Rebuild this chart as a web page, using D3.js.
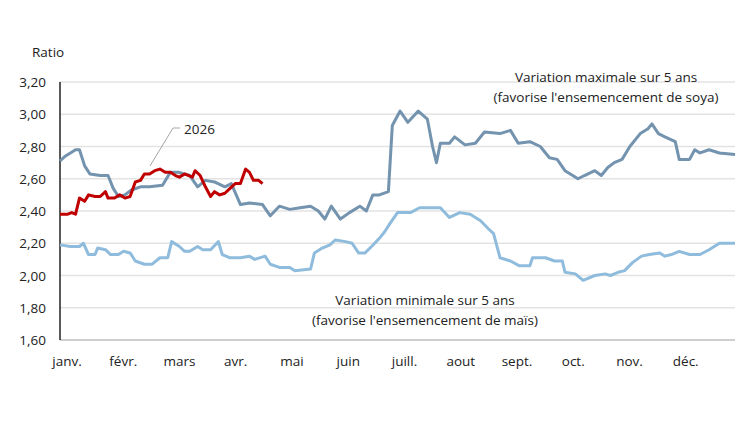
<!DOCTYPE html>
<html><head><meta charset="utf-8">
<script src="https://cdn.jsdelivr.net/npm/d3@7"></script>
<style>body{margin:0;background:#fff}text{font-family:"Open Sans","Noto Sans",sans-serif}</style>
</head><body>
<svg id="chart" width="750" height="422"></svg>
<script>
const months = ["janv.","févr.","mars","avr.","mai","juin","juill.","aout","sept.","oct.","nov.","déc."];
const yTicks = [1.6,1.8,2.0,2.2,2.4,2.6,2.8,3.0,3.2];

// week of year, ratio
const maxWeeks = [0,0.4,1.2,1.5,1.9,2.3,3.1,3.7,4.1,4.5,5,5.5,6.2,6.9,7.9,8.5,9.1,10,10.6,11.2,11.9,12.7,13.2,13.9,14.6,15.6,16.2,16.9,17.7,18.5,19.3,19.9,20.4,20.9,21.6,22.3,23.1,23.6,24.1,24.6,25.3,25.6,26.2,26.8,27.6,28.3,28.7,29,29.3,30,30.4,31.2,32,32.7,33.9,34.7,35.3,36.2,37,37.7,38.3,38.9,39.5,39.9,40.4,41.2,41.7,42.2,42.7,43.3,43.9,44.7,45.3,45.6,46.1,46.6,47.4,47.7,48.5,48.9,49.3,50,50.8,52];
const maxVals = [2.71,2.74,2.78,2.78,2.68,2.63,2.62,2.62,2.54,2.49,2.50,2.53,2.55,2.55,2.56,2.64,2.64,2.62,2.55,2.59,2.58,2.55,2.57,2.44,2.45,2.44,2.37,2.43,2.41,2.42,2.43,2.40,2.35,2.43,2.35,2.39,2.43,2.40,2.50,2.50,2.52,2.93,3.02,2.95,3.02,2.97,2.80,2.70,2.82,2.82,2.86,2.81,2.82,2.89,2.88,2.90,2.82,2.83,2.80,2.73,2.72,2.65,2.62,2.60,2.62,2.65,2.62,2.67,2.70,2.72,2.80,2.88,2.91,2.94,2.88,2.86,2.83,2.72,2.72,2.78,2.76,2.78,2.76,2.75];

const minWeeks = [0,0.8,1.5,1.8,2.2,2.7,2.9,3.5,3.9,4.5,4.9,5.4,5.8,6.5,7.1,7.7,8.3,8.6,9.2,9.6,10,10.6,11,11.6,12.2,12.5,13.1,13.9,14.6,15,15.8,16.2,16.9,17.7,18.1,19.3,19.6,20.2,20.8,21.2,22,22.5,23,23.5,24,24.6,25,25.4,26,27,27.7,28.5,29.3,30,30.8,31.6,32.4,33,33.4,33.9,34.7,35.4,36.2,36.4,37.4,38.1,38.7,38.9,39.7,40.3,41.2,42,42.4,43,43.5,44.1,44.8,45.4,46.2,46.6,47.1,47.7,48.5,49.3,50,50.8,52];
const minVals = [2.19,2.18,2.18,2.20,2.13,2.13,2.17,2.16,2.13,2.13,2.15,2.14,2.09,2.07,2.07,2.11,2.11,2.21,2.18,2.15,2.15,2.18,2.16,2.16,2.21,2.13,2.11,2.11,2.12,2.10,2.12,2.07,2.05,2.05,2.03,2.04,2.14,2.17,2.19,2.22,2.21,2.20,2.14,2.14,2.18,2.23,2.27,2.32,2.39,2.39,2.42,2.42,2.42,2.36,2.39,2.38,2.34,2.29,2.26,2.11,2.09,2.06,2.06,2.11,2.11,2.09,2.09,2.02,2.01,1.97,2.00,2.01,2.00,2.02,2.03,2.08,2.12,2.13,2.14,2.12,2.13,2.15,2.13,2.13,2.16,2.20,2.20];

const curWeeks = [0,0.6,0.9,1.2,1.5,1.9,2.2,2.7,3.1,3.5,3.7,4.2,4.6,5,5.4,5.8,6.2,6.5,6.9,7.3,7.7,8.1,8.5,8.9,9.2,9.6,10.2,10.4,10.8,11.2,11.6,11.9,12.3,12.7,13.1,13.5,13.9,14.3,14.6,14.9,15.3,15.6];
const curVals = [2.38,2.38,2.39,2.38,2.48,2.46,2.50,2.49,2.49,2.52,2.48,2.48,2.50,2.48,2.49,2.58,2.59,2.63,2.63,2.65,2.66,2.64,2.64,2.62,2.61,2.63,2.61,2.65,2.62,2.55,2.49,2.52,2.50,2.51,2.54,2.57,2.57,2.66,2.64,2.59,2.59,2.57];

const svg = d3.select("#chart");
const x = d3.scaleLinear().domain([0, 52]).range([60, 735]);
const xm = d3.scaleLinear().domain([0, 12]).range([60, 735]);
const y = d3.scaleLinear().domain([1.6, 3.2]).range([340, 82]);
const fmt = d => d.toFixed(2).replace(".", ",");

// grid
svg.selectAll(".grid").data(yTicks).enter().append("line")
    .attr("x1", 60).attr("x2", 735)
    .attr("y1", d => y(d)).attr("y2", d => y(d))
    .attr("stroke", d => d === 1.6 ? "#bfbfbf" : "#e3e3e3").attr("stroke-width", 1.3);

svg.selectAll(".ytick").data(yTicks).enter().append("text")
    .attr("x", 46).attr("y", d => y(d) + 5)
    .attr("text-anchor", "end").attr("font-size", 13.5).attr("fill", "#222")
    .text(fmt);

svg.append("line").attr("x1", 60).attr("x2", 60).attr("y1", 82).attr("y2", 340)
    .attr("stroke", "#000").attr("stroke-width", 1.3);

svg.append("text").attr("x", 32).attr("y", 57).attr("font-size", 13.5).attr("fill", "#222").text("Ratio");

svg.selectAll(".month").data(months).enter().append("text")
    .attr("x", (d, i) => xm(i) + 7).attr("y", 366)
    .attr("text-anchor", "middle").attr("font-size", 13.5).attr("fill", "#222")
    .text(d => d);

const line = d3.line().x(d => x(d[0])).y(d => y(d[1]));
function draw(ws, vs, color) {
    svg.append("path").datum(d3.zip(ws, vs))
        .attr("d", line).attr("fill", "none")
        .attr("stroke", color).attr("stroke-width", 3).attr("stroke-linejoin", "round");
}
draw(minWeeks, minVals, "#8fbcdc");
draw(maxWeeks, maxVals, "#7393ae");
draw(curWeeks, curVals, "#c00000");

// annotations
svg.append("polyline").attr("points", "150,166 173,128 180,128")
    .attr("fill", "none").attr("stroke", "#a6a6a6").attr("stroke-width", 1);
svg.append("text").attr("x", 184).attr("y", 134).attr("font-size", 13.5).attr("fill", "#222").text("2026");

const tMax = svg.append("text").attr("text-anchor", "middle").attr("font-size", 13.5).attr("fill", "#222");
tMax.append("tspan").attr("x", 606).attr("y", 82).text("Variation maximale sur 5 ans");
tMax.append("tspan").attr("x", 606).attr("y", 102).text("(favorise l'ensemencement de soya)");
const tMin = svg.append("text").attr("text-anchor", "middle").attr("font-size", 13.5).attr("fill", "#222");
tMin.append("tspan").attr("x", 425).attr("y", 305).text("Variation minimale sur 5 ans");
tMin.append("tspan").attr("x", 425).attr("y", 325).text("(favorise l'ensemencement de maïs)");
</script>
</body></html>
